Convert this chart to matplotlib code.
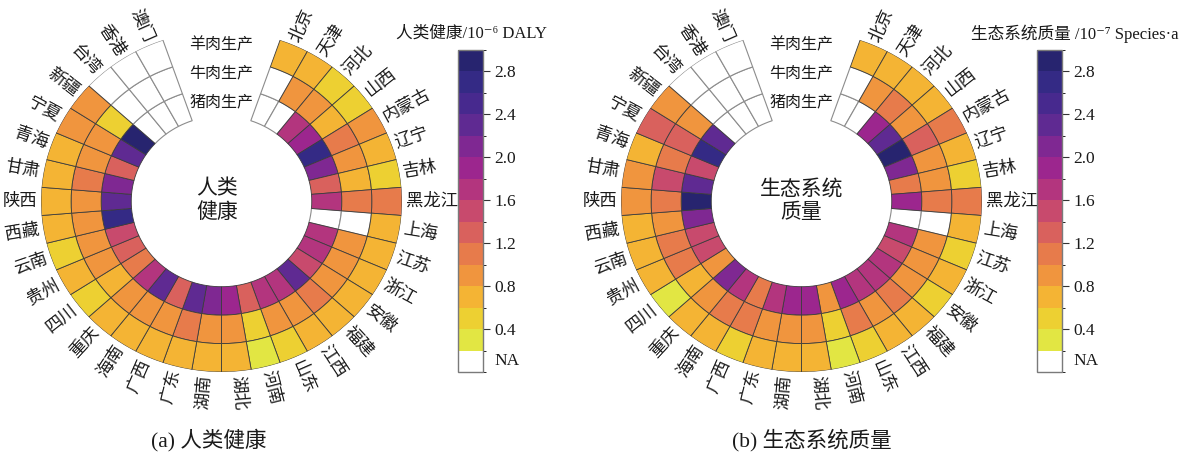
import numpy as np
import matplotlib
matplotlib.use("Agg")
import matplotlib.pyplot as plt
from matplotlib.colors import ListedColormap, BoundaryNorm
from matplotlib.colorbar import ColorbarBase

plt.rcParams['font.family'] = ['Liberation Serif', 'Noto Sans CJK SC', 'DejaVu Serif']

nan = np.nan

provinces = ['北京', '天津', '河北', '山西', '内蒙古', '辽宁', '吉林', '黑龙江',
             '上海', '江苏', '浙江', '安徽', '福建', '江西', '山东', '河南',
             '湖北', '湖南', '广东', '广西', '海南', '重庆', '四川', '贵州',
             '云南', '西藏', '陕西', '甘肃', '青海', '宁夏', '新疆',
             '台湾', '香港', '澳门']
ring_names = ['猪肉生产', '牛肉生产', '羊肉生产']   # inner -> outer

# 人类健康 (10^-6 DALY)
hh_pork = [nan, nan, 1.7, 1.9, 2.7, 2.1, 1.3, 1.7, nan, 1.7, 1.7, 1.5, 2.3, 1.7, 1.7, 1.3,
           1.9, 2.1, 2.3, 1.3, 2.3, 1.7, 1.1, 1.3, 1.5, 2.7, 2.3, 2.1, 1.3, 2.3, 2.9,
           nan, nan, nan]
hh_beef = [nan, 0.9, 0.9, 0.7, 1.1, 0.9, 0.7, 1.1, nan, 0.9, 0.9, 0.9, 1.1, 0.9, 0.9, 0.5,
           0.9, 0.9, 1.1, 0.9, 0.9, 0.9, 0.7, 0.9, 0.9, 0.9, 0.9, 1.1, 0.9, 0.9, 0.5,
           nan, nan, nan]
hh_mutton = [0.7, 0.7, 0.5, 0.5, 0.9, 0.7, 0.5, 1.1, 0.7, 0.7, 0.7, 0.7, 0.7, 0.7, 0.5, 0.3,
             0.7, 0.7, 0.7, 0.7, 0.7, 0.7, 0.5, 0.7, 0.5, 0.7, 0.7, 0.7, 0.7, 0.9, 0.9,
             nan, nan, nan]

# 生态系统质量 (10^-7 Species·a)
eq_pork = [nan, nan, 1.9, 2.3, 2.9, 2.1, 1.1, 1.9, nan, 1.7, 1.5, 1.7, 1.7, 1.7, 1.9, 0.9,
           1.9, 1.9, 1.7, 1.1, 1.7, 2.1, 0.9, 1.5, 1.5, 2.1, 2.9, 2.3, 1.5, 2.7, 2.3,
           nan, nan, nan]
eq_beef = [nan, 0.9, 1.1, 0.9, 1.3, 0.9, 0.9, 1.1, nan, 0.9, 0.9, 0.9, 1.1, 0.9, 1.1, 0.5,
           0.9, 0.9, 0.9, 1.1, 1.1, 0.9, 0.7, 1.1, 1.1, 0.9, 1.1, 1.5, 1.1, 1.3, 0.9,
           nan, nan, nan]
eq_mutton = [0.7, 0.7, 0.7, 0.7, 1.1, 0.7, 0.5, 1.1, 0.7, 0.5, 0.7, 0.5, 0.7, 0.7, 0.5, 0.3,
             0.7, 0.7, 0.7, 0.5, 0.7, 0.7, 0.3, 0.7, 0.7, 0.7, 0.9, 0.9, 0.7, 1.3, 0.9,
             nan, nan, nan]

level_bounds = [0.2, 0.4, 0.6, 0.8, 1.0, 1.2, 1.4, 1.6, 1.8, 2.0, 2.2, 2.4, 2.6, 2.8, 3.0]
cbar_ticks = [0.4, 0.8, 1.2, 1.6, 2.0, 2.4, 2.8]
palette = ['#e2e643', '#edd032', '#f4b434', '#f0953e', '#e77b4b', '#d9615d',
           '#c84a6d', '#b3357e', '#9c268e', '#7f2892', '#5f2a92', '#47298e',
           '#342a85', '#27246f']

cmap = ListedColormap(palette)
norm = BoundaryNorm(level_bounds, cmap.N)

W, H = 1187, 459
fig = plt.figure(figsize=(W / 100, H / 100), dpi=100)

n_slots = 38          # 34 provinces + 4-slot opening at the top
gap_slots = 4
step = 2 * np.pi / n_slots
hole = 3.0            # radius of the empty centre, in ring widths
ink = '#1a1a1a'


def px_box(cx, cy, rx, ry):
    return [(cx - rx) / W, (H - cy - ry) / H, 2 * rx / W, 2 * ry / H]


def ring_chart(box, rings, centre_text, centre_dx):
    ax = fig.add_axes(box, projection='polar')
    ax.set_aspect('auto')
    ax.set_theta_zero_location('N')
    ax.set_theta_direction(-1)
    ax.set_ylim(0, hole + len(rings))
    ax.set_axis_off()

    idx = np.arange(len(provinces))
    theta = (gap_slots / 2 + idx + 0.5) * step
    for k, vals in enumerate(rings):
        vals = np.asarray(vals, dtype=float)
        ok = ~np.isnan(vals)
        ax.bar(theta[~ok], 1.0, width=step, bottom=hole + k,
               color='white', edgecolor='#8c8c8c', linewidth=0.8,
               align='center')
        ax.bar(theta[ok], 1.0, width=step, bottom=hole + k,
               color=cmap(norm(vals[ok])), edgecolor='#3c3c3c', linewidth=0.6,
               align='center')

    r_out = hole + len(rings)
    for t, name in zip(theta, provinces):
        deg = np.degrees(t)
        if deg < 180:
            rot, ha = 90 - deg, 'left'
        else:
            rot, ha = 270 - deg, 'right'
        ax.text(t, r_out + 0.13, name, rotation=rot, rotation_mode='anchor',
                ha=ha, va='center', fontsize=12.5, color=ink)

    for k, name in enumerate(ring_names):
        ax.text(0, hole + k + 0.5, name, ha='center', va='center',
                fontsize=11.5, color=ink)

    ax.text(0.5 + centre_dx, 0.5, centre_text, transform=ax.transAxes,
            ha='center', va='center', fontsize=15, linespacing=1.25, color=ink)
    return ax


def colour_bar(x0, title, title_x):
    top, bottom = 50, 372
    cax = fig.add_axes([x0 / W, (H - bottom) / H, 25 / W, (bottom - top) / H])
    cb_cmap = ListedColormap(['white'] + palette)
    bounds = [0.0] + level_bounds
    cb = ColorbarBase(cax, cmap=cb_cmap, norm=BoundaryNorm(bounds, cb_cmap.N),
                      boundaries=bounds, ticks=cbar_ticks, spacing='uniform')
    cb.outline.set_edgecolor('#7a7a7a')
    cb.outline.set_linewidth(1.0)
    cax.tick_params(length=5, width=0.8, color='#333333', labelsize=12.5,
                    pad=3, labelcolor=ink)
    cax.set_yticklabels([f'{t:.1f}' for t in cbar_ticks])
    cax.text(1.45, 0.1, 'NA', transform=cax.get_yaxis_transform(),
             ha='left', va='center', fontsize=12.5, color=ink)
    fig.text(title_x / W, 1 - 34 / H, title, ha='center', va='center',
             fontsize=12, color=ink)


ring_chart(px_box(221.5, 201.4, 180.5, 170.6), [hh_pork, hh_beef, hh_mutton],
           '人类\n健康', -0.012)
ring_chart(px_box(801.5, 201.4, 180.5, 170.6), [eq_pork, eq_beef, eq_mutton],
           '生态系统\n质量', 0.0)

colour_bar(458, '人类健康/10⁻⁶ DALY', 471)
colour_bar(1037, '生态系统质量 /10⁻⁷ Species·a', 1075)

fig.text(209 / W, 1 - 440 / H, '(a) 人类健康', ha='center', va='center',
         fontsize=15.5, color=ink)
fig.text(812 / W, 1 - 440 / H, '(b) 生态系统质量', ha='center', va='center',
         fontsize=15.5, color=ink)

fig.savefig('out.png', dpi=100, facecolor='white')
